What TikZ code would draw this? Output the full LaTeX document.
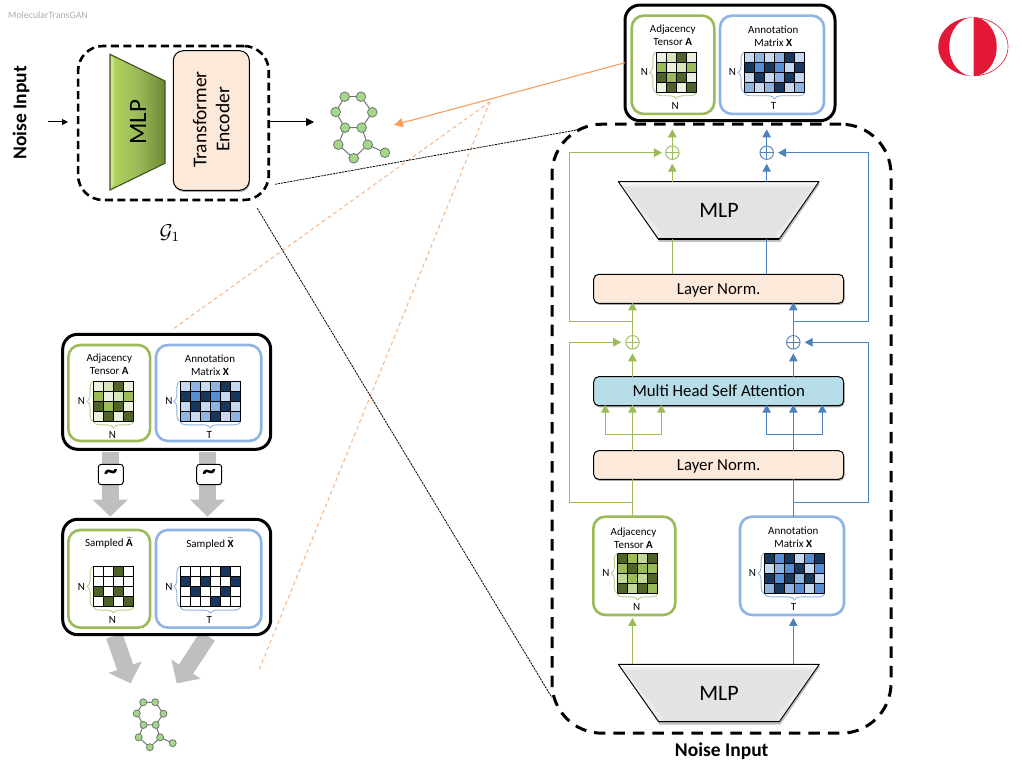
\documentclass[tikz,border=0pt]{standalone}
\usepackage{fontspec}
\setmainfont{Carlito}
\usetikzlibrary{arrows.meta,shadows,shapes.geometric,decorations.pathreplacing}
\definecolor{gl}{HTML}{EBF1DE}
\definecolor{gk}{HTML}{D8E4BC}
\definecolor{gp}{HTML}{C4D79B}
\definecolor{gm}{HTML}{9BBB59}
\definecolor{gd}{HTML}{4F6228}
\definecolor{bl}{HTML}{C6D9F1}
\definecolor{bm}{HTML}{8EB4E3}
\definecolor{bs}{HTML}{558ED5}
\definecolor{bd}{HTML}{17375E}
\definecolor{bline}{HTML}{4F81BD}
\definecolor{peach}{HTML}{FDE9D9}
\definecolor{attn}{HTML}{B7DDE8}
\definecolor{orangeline}{HTML}{F79F5B}
\definecolor{orangelite}{HTML}{F9B380}
\definecolor{bigarrow}{HTML}{BFBFBF}
\definecolor{logored}{HTML}{E31837}
\definecolor{molfill}{HTML}{A5D78A}
\definecolor{molline}{HTML}{707870}
\definecolor{mlpleft}{HTML}{B4D55C}
\definecolor{mlpright}{HTML}{6C8A36}
\newcommand\fs[1]{\fontsize{#1}{#1}\selectfont}
\tikzset{
  softshadow/.style={drop shadow={shadow xshift=.8pt,shadow yshift=-1.6pt,opacity=.35,fill=black}},
  blackbox/.style={draw=black,line width=3,rounded corners=15pt,fill=white,inner sep=0,outer sep=0},
  greenbox/.style={draw=gm,line width=2.6,rounded corners=12pt,fill=white,inner sep=0,outer sep=0},
  bluebox/.style={draw=bm,line width=2.6,rounded corners=12pt,fill=white,inner sep=0,outer sep=0},
  layerbox/.style={draw=black,line width=1,rounded corners=5pt,inner sep=0,outer sep=0,minimum width=250,font=\fs{16.8},text height=13,text depth=2,softshadow},
  trapfill/.style={inner sep=0,outer sep=0,font=\fs{22}},
  lbl/.style={inner sep=0,outer sep=0,align=center,font=\fontsize{11}{13}\selectfont},
  oplusg/.style={circle,draw=gm,fill=white,line width=.9,minimum size=13.5,inner sep=0,outer sep=0,
    path picture={\draw[gm,line width=.7] (path picture bounding box.north)--(path picture bounding box.south) (path picture bounding box.west)--(path picture bounding box.east);}},
  oplusb/.style={circle,draw=bline,fill=white,line width=.9,minimum size=13.5,inner sep=0,outer sep=0,
    path picture={\draw[bline,line width=.7] (path picture bounding box.north)--(path picture bounding box.south) (path picture bounding box.west)--(path picture bounding box.east);}},
  garrow/.style={draw=gm,line width=1,-{Triangle[length=8pt,width=8.5pt,fill=gm]}},
  barrow/.style={draw=bline,line width=1,-{Triangle[length=8pt,width=8.5pt,fill=bline]}},
  gplain/.style={draw=gm,line width=1},
  bplain/.style={draw=bline,line width=1},
  bigarr/.style={draw=bigarrow,line width=17,-{Triangle[length=17pt,width=34pt,fill=bigarrow]}},
  hugedash/.style={draw=black,line width=3,dash pattern=on 11.5pt off 8pt},
  finedash/.style={draw=black,line width=.8,dash pattern=on 2.2pt off .9pt},
  orangedash/.style={draw=orangelite,line width=1,dash pattern=on 3.8pt off 3.2pt},
  tildebox/.style={draw=black,line width=1,fill=white,rounded corners=3pt,minimum width=25,minimum height=20.4,inner sep=0,outer sep=0,font=\bfseries\fs{27}},
  molnode/.style={circle,draw=molline,fill=molfill,line width=.8,inner sep=0,outer sep=0},
  moledge/.style={draw=molline,line width=1},
}
% prefix, x, y, scale
\newcommand\molecule[4]{%
  \begin{scope}[shift={(#2,#3)},x=#4pt,y=-#4pt,every node/.append style={molnode,minimum size=#4*9.6}]
    \node (#1a) at (0,0) {};
    \node (#1b) at (16.3,0) {};
    \node (#1c) at (27.6,15.6) {};
    \node (#1d) at (17,31) {};
    \node (#1e) at (.3,31) {};
    \node (#1f) at (-9,15.3) {};
    \node (#1g) at (23,48) {};
    \node (#1h) at (9,61.6) {};
    \node (#1i) at (-6.4,48) {};
    \node (#1j) at (40.3,56) {};
    \draw[moledge] (#1a)--(#1b) (#1b)--(#1c) (#1c)--(#1d) (#1d)--(#1e) (#1e)--(#1f) (#1f)--(#1a)
       (#1d)--(#1g) (#1g)--(#1h) (#1h)--(#1i) (#1i)--(#1e) (#1g)--(#1j);
  \end{scope}%
}
% x0, y0, cols, brace colour, side label dist, bottom text, rows
\newcommand\gridblock[7]{%
  \begin{scope}[shift={(#1,#2)}]
    \foreach \rowlist [count=\r from 0] in #7 {
      \foreach \cc [count=\k from 0] in \rowlist {
        \path[draw=black,line width=.9,fill=\cc] (\k*10.1,\r*10.05) rectangle ++(10.1,10.05);
      }
    }
    \draw[#4,line width=.9,decorate,decoration={brace,amplitude=6pt}] (-.2,40.2) -- (-.2,0);
    \draw[#4,line width=.9,decorate,decoration={brace,amplitude=6pt}] (#3*10.1,40.6) -- (0,40.6);
    \node[lbl] at (-#5,20) {N};
    \node[lbl] at (#3*5.05-1,53.5) {#6};
  \end{scope}%
}
\newcommand\adjrows{{gl,gk,gd,gl},{gm,gl,gk,gm},{gd,gm,gd,gl},{gl,gd,gl,gd}}
\newcommand\annrows{{bl,bm,bl,bm,bd,bl},{bd,bs,bd,bs,bl,bd},{bl,bd,bl,bm,bd,bl},{bm,bl,bm,bd,bl,bm}}
\newcommand\cadjrows{{gd,gm,gp,gd},{gm,gd,gm,gm},{gp,gm,gp,gd},{gd,gp,gd,gm}}
\newcommand\cannrows{{bd,bs,bd,bl,bs,bd},{bl,bm,bs,bd,bl,bs},{bd,bs,bd,bm,bd,bl},{bm,bd,bm,bs,bl,bs}}
\newcommand\sadjrows{{white,white,gd,white},{white,white,white,white},{gd,white,gd,white},{white,gd,white,gd}}
\newcommand\sannrows{{white,white,white,white,bd,white},{bd,white,bd,white,white,bd},{white,bd,white,white,bd,white},{white,white,white,bd,white,white}}
% bevelled grey trapezoid: top-left x, top-right x, bot-left x, bot-right x, top y, bot y
\newcommand\greytrap[6]{%
  \fill[black!45,opacity=.55] (#1+1,#5+2)--(#2+1,#5+2)--(#4+1,#6+3)--(#3+1,#6+3)--cycle;
  \fill[gray!22] (#1,#5)--(#2,#5)--(#4,#6)--(#3,#6)--cycle;
  \shade[top color=white,bottom color=gray!22] (#1,#5)--(#2,#5)--(#2-6,#5+6)--(#1+6,#5+6)--cycle;
  \fill[white,opacity=.35] (#1,#5)--(#1+6,#5+6)--(#3+4,#6-4)--(#3,#6)--cycle;
  \fill[white,opacity=.25] (#2,#5)--(#2-6,#5+6)--(#4-4,#6-4)--(#4,#6)--cycle;
  \draw[black,line width=.9,line join=round] (#1,#5)--(#2,#5)--(#4,#6)--(#3,#6)--cycle;
  \draw[black,line width=1.5] (#3,#6)--(#4,#6);
}
\begin{document}
\begin{tikzpicture}[x=1pt,y=-1pt]
\useasboundingbox (0,0) rectangle (1022,767);
\fill[white] (0,0) rectangle (1022,767);

\node[inner sep=0,anchor=west,text=black!32,font=\fs{9.8}] (title) at (8,15) {MolecularTransGAN};

% ---- logo
\begin{scope}
  \clip (930,0) rectangle (973.3,100);
  \fill[logored] (973.3,46.7) ellipse [x radius=35pt,y radius=29.4pt];
  \fill[white] (973.3,46.7) ellipse [x radius=24pt,y radius=29.4pt];
\end{scope}
\begin{scope}
  \clip (973.8,0) rectangle (1022,100);
  \draw[logored,line width=.6] (973.3,46.7) ellipse [x radius=34.7pt,y radius=29.1pt];
  \fill[logored] (973.3,46.7) ellipse [x radius=23.4pt,y radius=29.4pt];
\end{scope}

% ---- generator G1
\node[rotate=90,inner sep=0,font=\bfseries\fs{19.5}] (noiseL) at (21,113) {Noise Input};
\node[draw=black,line width=2.6,dash pattern=on 8pt off 4.5pt,rounded corners=25pt,minimum width=190.7,minimum height=154,inner sep=0,outer sep=0] (gbox) at (173.4,123) {};
\shade[left color=mlpleft,right color=mlpright,middle color=gm] (110,54.3)--(165,81)--(165,163.3)--(110,190)--cycle;
\fill[white,opacity=.3] (110,54.3)--(114,60)--(114,184)--(110,190)--cycle;
\draw[gd!85!black,line width=1.1,line join=miter] (110,54.3)--(165,81)--(165,163.3)--(110,190)--cycle;
\node[rotate=90,inner sep=0,font=\fs{25}] (mlpG) at (138,122) {MLP};
\node[draw=black,line width=1,fill=peach,rounded corners=10pt,minimum width=76,minimum height=139.6,inner sep=0,outer sep=0,softshadow] (tenc) at (211.3,120.5) {};
\node[rotate=90,inner sep=0,align=center,font=\fontsize{19.5}{23}\selectfont,text=black] (tenct) at (211.3,119.5) {Transformer\\Encoder};
\node[inner sep=0,scale=2] (g1) at (170,233) {$\mathcal{G}_1$};
\coordinate (inarrow) at (48,122);
\coordinate (inarrowend) at (68,122);
\coordinate (outarrowend) at (314,122);
\draw[black,line width=1,-{Triangle[length=6pt,width=6pt]}] (inarrow) -- (inarrowend);
\draw[black,line width=1,-{Triangle[length=8pt,width=8pt]}] (gbox.east |- outarrowend) -- (outarrowend);
\molecule{m}{344.7}{96.7}{1}

% ---- big transformer encoder dashed
\node[hugedash,rounded corners=50pt,minimum width=339,minimum height=609,inner sep=0,outer sep=0] (bigbox) at (721.5,428.7) {};

% ---- zoom lines
\coordinate (apex) at (490,101.7);
\coordinate (oa) at (174,328.3);
\coordinate (ob) at (259.3,669.3);
\draw[orangedash] (apex) -- (oa);
\draw[orangedash] (apex) -- (ob);
\coordinate (fa) at (275,184.3);
\coordinate (fb) at (586,128.3);
\coordinate (fc) at (257.3,208.3);
\coordinate (fd) at (551.7,697.3);
\draw[finedash] (fa) -- (fb);
\draw[finedash] (fc) -- (fd);

% ---- top output box
\node[blackbox,minimum width=210,minimum height=115.7] (topbox) at (730,62.9) {};
\node[greenbox,minimum width=82.6,minimum height=98.3] (topg) at (673,64.8) {};
\node[bluebox,minimum width=104,minimum height=98.3] (topb) at (772,64.8) {};
\node[lbl] (topgt) at (672.7,35) {Adjacency\\Tensor \textbf{A}};
\node[lbl] (topbt) at (773.3,36.2) {Annotation\\Matrix \textbf{X}};
\gridblock{656}{52.2}{4}{gm!70}{11.5}{N}{\adjrows}
\gridblock{744.3}{52.2}{6}{bm}{12}{T}{\annrows}
\coordinate (orangefrom) at (625,62.7);
\coordinate (orangeto) at (394,125);
\draw[orangeline,line width=1.1,-{Triangle[length=9pt,width=9pt,fill=orangeline]}] (orangefrom) -- (orangeto);

% ---- columns
\coordinate (cgu) at (672.3,0);
\coordinate (cbu) at (766.7,0);
\coordinate (cgl) at (632.5,0);
\coordinate (cbl) at (793.3,0);

% ---- layer boxes
\node[inner sep=0,outer sep=0,minimum width=200.7,minimum height=57.3] (mlpU) at (718.7,210.3) {};
\node[inner sep=0,outer sep=0,minimum width=201,minimum height=57.4] (mlpD) at (718.8,693) {};
\node[layerbox,fill=peach,minimum height=29] (normU) at (718.7,288.8) {Layer Norm.};
\node[layerbox,fill=attn,minimum height=29] (attn) at (718.7,391.2) {Multi Head Self Attention};
\node[layerbox,fill=peach,minimum height=28.6] (normD) at (718.7,465) {Layer Norm.};
\node[oplusg] (pgu) at (672.3,152.7) {};
\node[oplusb] (pbu) at (766.7,152.7) {};
\node[oplusg] (pgl) at (632.5,342.3) {};
\node[oplusb] (pbl) at (793.3,342.3) {};

% ---- center grids
\node[greenbox,minimum width=82,minimum height=98.3] (cg) at (634.3,565.8) {};
\node[bluebox,minimum width=104,minimum height=98.3] (cb) at (792,565.8) {};
\node[lbl] (cgt) at (633.5,538) {Adjacency\\Tensor \textbf{A}};
\node[lbl] (cbt) at (793.3,537) {Annotation\\Matrix \textbf{X}};
\gridblock{617.5}{553.3}{4}{gm!70}{11.5}{N}{\cadjrows}
\gridblock{764.3}{553.3}{6}{bm}{12}{T}{\cannrows}

% ---- MLP trapezoids
\greytrap{618.3}{819}{658.3}{779.3}{181.7}{239}
\node[trapfill] (mlpUt) at (719,210.5) {MLP};
\greytrap{618.3}{819.3}{658.7}{779.3}{664.3}{721.7}
\node[trapfill] (mlpDt) at (719,693.5) {MLP};

% ---- connectors upper
\coordinate (outgu) at (672.3,129.3);
\coordinate (outbu) at (766.7,129.3);
\draw[garrow,shorten >=4.3pt] (cgu |- mlpU.north) -- (pgu.south);
\draw[barrow,shorten >=4.3pt] (cbu |- mlpU.north) -- (pbu.south);
\draw[garrow] (pgu.north) -- (outgu);
\draw[barrow] (pbu.north) -- (outbu);
\draw[gplain] (cgu |- mlpU.south) -- (cgu |- normU.north);
\draw[bplain] (cbu |- mlpU.south) -- (cbu |- normU.north);
% residual upper
\coordinate (rgu) at (569.3,321.7);
\coordinate (rbu) at (868.3,321.7);
\draw[garrow,shorten >=3.6pt] (cgl |- rgu) -- (rgu) |- (pgu.west);
\draw[barrow,shorten >=4.6pt] (cbl |- rbu) -- (rbu) |- (pbu.east);
\draw[garrow,shorten >=-1pt] (pgl.north) -- (cgl |- normU.south);
\draw[barrow,shorten >=-1pt] (pbl.north) -- (cbl |- normU.south);
% attention to plus
\draw[garrow,shorten >=4.3pt] (cgl |- attn.north) -- (pgl.south);
\draw[barrow,shorten >=4.3pt] (cbl |- attn.north) -- (pbl.south);
% residual lower
\coordinate (rgl) at (569.3,502.7);
\coordinate (rbl) at (868,502.7);
\draw[garrow,shorten >=4.6pt] (cgl |- rgl) -- (rgl) |- (pgl.west);
\draw[barrow,shorten >=4.6pt] (cbl |- rbl) -- (rbl) |- (pbl.east);
% attention inputs
\coordinate (bgm) at (632.5,434);
\coordinate (bbm) at (793.3,434.7);
\coordinate (gl1) at (605.3,434);
\coordinate (gl2) at (661.3,434);
\coordinate (bl1) at (766.7,434.7);
\coordinate (bl2) at (822.3,434.7);
\draw[garrow,shorten >=-1pt] (cgl |- normD.north) -- (cgl |- attn.south);
\draw[barrow,shorten >=-1pt] (cbl |- normD.north) -- (cbl |- attn.south);
\draw[garrow,shorten >=-1pt] (bgm) -- (gl1) -- (gl1 |- attn.south);
\draw[garrow,shorten >=-1pt] (bgm) -- (gl2) -- (gl2 |- attn.south);
\draw[barrow,shorten >=-1pt] (bbm) -- (bl1) -- (bl1 |- attn.south);
\draw[barrow,shorten >=-1pt] (bbm) -- (bl2) -- (bl2 |- attn.south);
% box to norm
\draw[gplain] (cgl |- cg.north) -- (cgl |- normD.south);
\draw[bplain] (cbl |- cb.north) -- (cbl |- normD.south);
% mlp to box
\draw[garrow,shorten >=3pt] (cgl |- mlpD.north) -- (cgl |- cg.south);
\draw[barrow,shorten >=3pt] (cbl |- mlpD.north) -- (cbl |- cb.south);

\node[inner sep=0,font=\bfseries\fs{19.5}] (noiseB) at (721.7,750.7) {Noise Input};

% ---- left column: big arrows first
\coordinate (ga1) at (110.3,451.5);
\coordinate (ga2) at (110.3,516.7);
\coordinate (ga3) at (207.5,451.5);
\coordinate (ga4) at (207.5,516.7);
\coordinate (ga5) at (114.3,636);
\coordinate (ga6) at (130.7,683.3);
\coordinate (ga7) at (207.7,636);
\coordinate (ga8) at (176.7,683.3);
\draw[bigarr] (ga1) -- (ga2);
\draw[bigarr] (ga3) -- (ga4);
\draw[bigarr] (ga5) -- (ga6);
\draw[bigarr] (ga7) -- (ga8);
\node[tildebox] (tl) at (110.8,474.5) {\raisebox{-3pt}{\textasciitilde}};
\node[tildebox] (tr) at (209.2,474.5) {\raisebox{-3pt}{\textasciitilde}};

\node[blackbox,minimum width=208,minimum height=115] (lbox) at (166.7,391.8) {};
\node[greenbox,minimum width=81.7,minimum height=96] (lg) at (109.2,393) {};
\node[bluebox,minimum width=105.3,minimum height=96] (lb) at (208.6,393) {};
\node[lbl] (lgt) at (109.3,364.2) {Adjacency\\Tensor \textbf{A}};
\node[lbl] (lbt) at (210,365.2) {Annotation\\Matrix \textbf{X}};
\gridblock{93.3}{381.2}{4}{gm!70}{12}{N}{\adjrows}
\gridblock{180}{381.2}{6}{bm}{11}{T}{\annrows}

\node[blackbox,minimum width=208,minimum height=115.4] (sbox) at (166.7,577) {};
\node[greenbox,minimum width=81.7,minimum height=97.7] (sg) at (109.2,578.8) {};
\node[bluebox,minimum width=105.3,minimum height=97.7] (sb) at (208.6,578.8) {};
\node[lbl] (sgt) at (109,542.7) {Sampled $\widetilde{\mathbf{A}}$};
\node[lbl] (sbt) at (210,543.3) {Sampled $\widetilde{\mathbf{X}}$};
\gridblock{93.3}{566.5}{4}{gm!70}{12}{N}{\sadjrows}
\gridblock{180}{566.5}{6}{bm}{11}{T}{\sannrows}

\molecule{s}{143.3}{702.3}{.73}
\end{tikzpicture}
\end{document}
